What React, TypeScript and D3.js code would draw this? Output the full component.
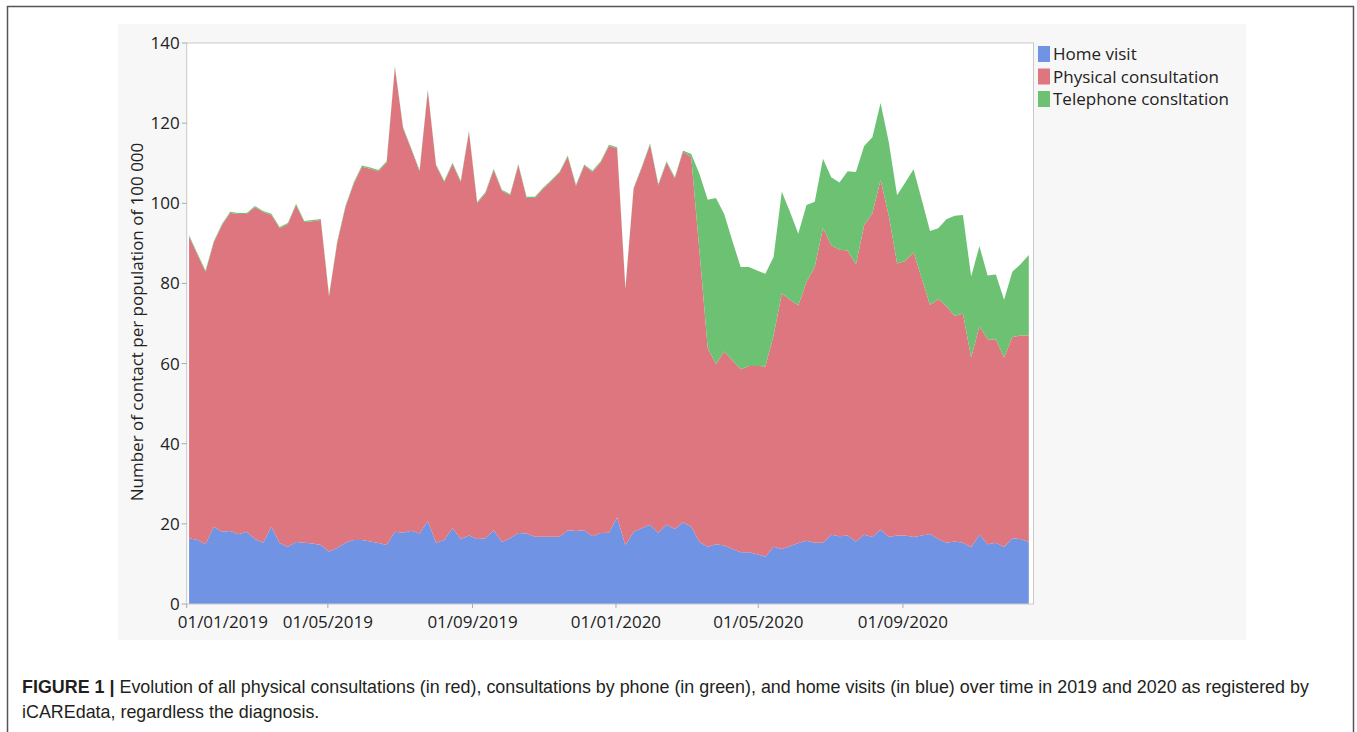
import React, { useEffect, useRef } from "react";
import * as d3 from "d3";

// weekly values (contacts per 100 000)
const homeVisit = [
  16.4, 16.0, 14.9, 19.3, 18.0, 18.2, 17.4, 18.0, 16.2, 15.3, 19.3, 15.2, 14.3, 15.5, 15.3, 15.1, 14.7, 13.1, 14.0, 15.3,
  16.0, 16.0, 15.6, 15.2, 14.7, 18.0, 17.8, 18.3, 17.6, 20.7, 15.3, 16.0, 18.9, 16.2, 17.1, 16.2, 16.4, 18.4, 15.5, 16.4,
  17.7, 17.6, 16.8, 16.8, 16.8, 16.8, 18.4, 18.2, 18.4, 16.9, 17.7, 17.8, 21.6, 14.6, 18.0, 18.9, 19.8, 17.7, 19.8, 18.7,
  20.4, 19.3, 15.5, 14.3, 14.9, 14.6, 13.7, 12.9, 12.9, 12.4, 11.8, 14.3, 13.7, 14.4, 15.2, 15.8, 15.3, 15.3, 17.3, 16.9,
  17.1, 15.6, 17.3, 16.7, 18.6, 16.7, 17.1, 17.1, 16.7, 17.1, 17.5, 16.2, 15.3, 15.6, 15.3, 14.2, 17.3, 14.9, 15.3, 14.2,
  16.4, 16.2, 15.5,
];

const physical = [
  75.3, 71.3, 68.0, 70.9, 76.5, 79.4, 79.9, 79.3, 82.8, 82.5, 77.8, 78.6, 80.5, 84.1, 80.0, 80.4, 81.1, 63.7, 76.2, 83.8,
  88.9, 93.1, 93.0, 92.8, 95.5, 115.9, 100.9, 95.1, 90.4, 107.4, 94.1, 89.3, 90.9, 89.1, 100.7, 83.8, 86.1, 89.9, 87.6, 85.6,
  91.8, 83.7, 84.5, 86.8, 88.7, 90.8, 93.2, 86.1, 91.0, 90.9, 92.5, 96.5, 92.1, 64.0, 85.6, 90.0, 94.9, 86.8, 90.4, 87.5,
  92.5, 92.2, 72.5, 49.6, 45.0, 48.4, 47.1, 45.7, 46.5, 47.0, 47.5, 52.7, 63.8, 61.5, 59.3, 64.6, 68.8, 78.5, 72.2, 71.5,
  71.1, 69.1, 77.2, 80.8, 87.2, 80.2, 67.9, 68.5, 71.1, 64.2, 57.1, 59.9, 59.0, 56.3, 57.2, 47.3, 52.0, 51.2, 50.7, 47.3,
  50.2, 50.8, 51.5,
];

const telephone = [
  0.3, 0.3, 0.3, 0.3, 0.3, 0.3, 0.3, 0.3, 0.3, 0.3, 0.3, 0.3, 0.3, 0.3, 0.3, 0.3, 0.3, 0.3, 0.3, 0.3,
  0.3, 0.3, 0.3, 0.3, 0.3, 0.3, 0.3, 0.3, 0.3, 0.3, 0.3, 0.3, 0.3, 0.3, 0.3, 0.3, 0.3, 0.3, 0.3, 0.3,
  0.3, 0.3, 0.3, 0.3, 0.3, 0.3, 0.3, 0.3, 0.3, 0.3, 0.3, 0.3, 0.3, 0.3, 0.3, 0.3, 0.3, 0.3, 0.3, 0.3,
  0.3, 0.8, 19.3, 37.0, 41.4, 34.3, 29.8, 25.5, 24.7, 23.8, 23.1, 19.6, 25.4, 21.9, 17.9, 19.2, 16.3, 17.3, 17.0, 16.8,
  19.8, 23.1, 19.8, 19.0, 19.2, 18.3, 17.0, 19.6, 20.7, 19.6, 18.5, 17.7, 21.7, 25.0, 24.6, 20.2, 20.0, 15.9, 16.2, 14.4,
  16.3, 17.8, 20.1,
];

const seriesKeys = ["home", "physical", "phone"];
const seriesLabels = ["Home visit", "Physical consultation", "Telephone consltation"];
const seriesColors = ["#7094e3", "#de7680", "#6cc173"];

const yTicks = [0, 20, 40, 60, 80, 100, 120, 140];
const xTickDates = ["2019-01-01", "2019-05-01", "2019-09-01", "2020-01-01", "2020-05-01", "2020-09-01"];

const firstWeek = new Date(2019, 0, 3);

const App = () => {
  const ref = useRef(null);

  useEffect(() => {
    const svg = d3.select(ref.current);
    svg.selectAll("*").remove();

    const uiFont = "'Open Sans', 'Noto Sans', sans-serif";

    // outer frame of the figure
    svg.append("path")
      .attr("d", "M7.5,732 V6.5 H1353.5 V732")
      .attr("fill", "none")
      .attr("stroke", "#555")
      .attr("stroke-width", 1.5);

    // grey panel behind the chart
    svg.append("rect")
      .attr("x", 118).attr("y", 24)
      .attr("width", 1128).attr("height", 616)
      .attr("fill", "#f7f7f7");

    const left = 186.7, right = 1033.5, top = 43, bottom = 604;

    const x = d3.scaleTime()
      .domain([new Date(2019, 0, 1), new Date(2020, 11, 21)])
      .range([left, right]);
    const y = d3.scaleLinear().domain([0, 140]).range([bottom, top]);

    svg.append("rect")
      .attr("x", left).attr("y", top)
      .attr("width", right - left).attr("height", bottom - top)
      .attr("fill", "#fff");

    const rows = homeVisit.map((h, i) => ({
      date: d3.timeDay.offset(firstWeek, 7 * i),
      home: h,
      physical: physical[i],
      phone: telephone[i],
    }));

    const stack = d3.stack().keys(seriesKeys);
    const layers = stack(rows);

    const area = d3.area()
      .x(d => x(d.data.date))
      .y0(d => y(d[0]))
      .y1(d => y(d[1]));

    svg.append("g")
      .selectAll("path")
      .data(layers)
      .enter()
      .append("path")
      .attr("d", area)
      .attr("fill", (d, i) => seriesColors[i]);

    // plot frame
    svg.append("rect")
      .attr("x", left).attr("y", top)
      .attr("width", right - left).attr("height", bottom - top)
      .attr("fill", "none")
      .attr("stroke", "#c9c9c9");

    // y axis
    const yAxis = svg.append("g");
    yAxis.selectAll("line")
      .data(yTicks)
      .enter()
      .append("line")
      .attr("x1", left - 5).attr("x2", left)
      .attr("y1", d => y(d)).attr("y2", d => y(d))
      .attr("stroke", "#aaa");
    yAxis.selectAll("text")
      .data(yTicks)
      .enter()
      .append("text")
      .attr("x", left - 7)
      .attr("y", d => y(d) + 6)
      .attr("text-anchor", "end")
      .style("font-family", uiFont)
      .style("font-size", "17px")
      .style("fill", "#222")
      .text(d => d);

    svg.append("text")
      .attr("transform", "translate(143," + 322 + ") rotate(-90)")
      .attr("text-anchor", "middle")
      .style("font-family", uiFont)
      .style("font-size", "17px")
      .style("fill", "#222")
      .text("Number of contact per population of 100 000");

    // x axis
    const fmt = d3.timeFormat("%d/%m/%Y");
    const xDates = xTickDates.map(s => d3.timeParse("%Y-%m-%d")(s));
    const xAxis = svg.append("g");
    xAxis.selectAll("line")
      .data(xDates)
      .enter()
      .append("line")
      .attr("x1", d => x(d)).attr("x2", d => x(d))
      .attr("y1", bottom).attr("y2", bottom + 4)
      .attr("stroke", "#aaa");
    xAxis.selectAll("text")
      .data(xDates)
      .enter()
      .append("text")
      .attr("x", (d, i) => i === 0 ? x(d) - 9 : x(d))
      .attr("y", 628)
      .attr("text-anchor", (d, i) => i === 0 ? "start" : "middle")
      .style("font-family", uiFont)
      .style("font-size", "17px")
      .style("fill", "#222")
      .text(d => fmt(d));

    // legend
    const legend = svg.append("g").attr("transform", "translate(1038,46)");
    seriesLabels.forEach((label, i) => {
      const g = legend.append("g").attr("transform", "translate(0," + i * 22.5 + ")");
      g.append("rect")
        .attr("width", 12).attr("height", 16)
        .attr("fill", seriesColors[i]);
      g.append("text")
        .attr("x", 15).attr("y", 14)
        .style("font-family", uiFont)
        .style("font-size", "17px")
        .style("fill", "#222")
        .text(label);
    });

    // caption
    const capFont = "'Liberation Sans', Arial, sans-serif";
    const cap1 = svg.append("text")
      .attr("x", 22).attr("y", 693)
      .style("font-family", capFont)
      .style("font-size", "17.9px")
      .style("fill", "#231f20");
    cap1.append("tspan").style("font-weight", "bold").text("FIGURE 1 |");
    cap1.append("tspan").text(" Evolution of all physical consultations (in red), consultations by phone (in green), and home visits (in blue) over time in 2019 and 2020 as registered by");
    svg.append("text")
      .attr("x", 22).attr("y", 718)
      .style("font-family", capFont)
      .style("font-size", "17.9px")
      .style("fill", "#231f20")
      .text("iCAREdata, regardless the diagnosis.");
  }, []);

  return (
    <svg
      ref={ref}
      width={1357}
      height={732}
      style={{ position: "absolute", left: 0, top: 0, background: "#fff" }}
    />
  );
};

export default App;
